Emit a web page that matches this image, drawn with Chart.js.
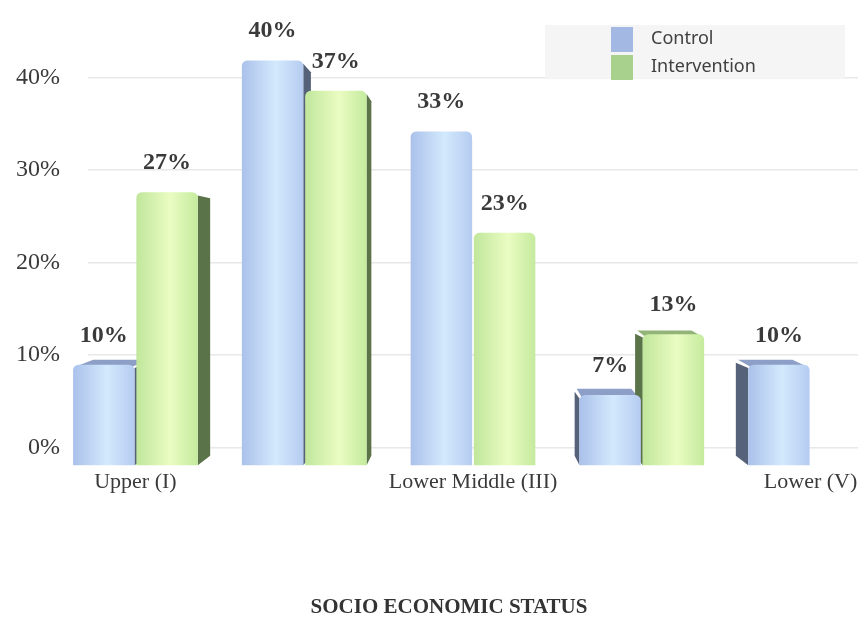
<!DOCTYPE html>
<html>
<head>
<meta charset="utf-8">
<title>Socio economic status</title>
<script src="https://cdn.jsdelivr.net/npm/chart.js@4.4.1/dist/chart.umd.min.js"></script>
<style>
  html, body { margin: 0; padding: 0; background: #fff; }
  #wrap { width: 865px; height: 624px; position: relative; }
</style>
</head>
<body>
<div id="wrap"><canvas id="sesChart"></canvas></div>
<script>
const categories = ['Upper (I)', 'Upper Middle (II)', 'Lower Middle (III)', 'Upper Lower (IV)', 'Lower (V)'];
const controlPct = [10, 40, 33, 7, 10];
const interventionPct = [27, 37, 23, 13, 0];
const yTicks = [0, 10, 20, 30, 40];
const axisTitle = 'SOCIO ECONOMIC STATUS';

// front face tones: edge, highlight, far edge, side wall, top lid, legend key
const SHADES = [
  { edge: '#a9c0ea', light: '#d3e9fd', far: '#b4cbf1', side: '#56617a', top: '#8d9fc6', key: '#a3b9e3' },
  { edge: '#bfe69a', light: '#eafcc2', far: '#c3ea9c', side: '#5a7348', top: '#93b478', key: '#a9d18e' }
];
const CAT_PCT = 0.75;
const BAR_PCT = 0.97;
// the plot is the back wall; bar fronts sit this much closer to the viewer
const VIEW = { zoom: 1.096, depth: 0.955, eyeValue: 21 };
const SERIF = '"Liberation Serif", "Times New Roman", serif';

function eyePoint(chart) {
  const a = chart.chartArea;
  return { x: (a.left + a.right) / 2, y: chart.scales.y.getPixelForValue(VIEW.eyeValue) };
}

function toPlane(e, px, py, k) {
  return [e.x + (px - e.x) * k, e.y + (py - e.y) * k];
}

function frontFill(c) {
  const tones = SHADES[c.datasetIndex];
  const chart = c.chart;
  const area = chart.chartArea;
  if (!area) return tones.edge;
  const slot = (area.right - area.left) / categories.length * CAT_PCT / 2;
  const left = chart.scales.x.getPixelForValue(c.dataIndex) - slot + c.datasetIndex * slot;
  const g = chart.ctx.createLinearGradient(left, 0, left + slot, 0);
  g.addColorStop(0, tones.edge);
  g.addColorStop(0.55, tones.light);
  g.addColorStop(1, tones.far);
  return g;
}

function fillPoly(ctx, pts, color) {
  ctx.beginPath();
  ctx.moveTo(pts[0][0], pts[0][1]);
  pts.slice(1).forEach(p => ctx.lineTo(p[0], p[1]));
  ctx.closePath();
  ctx.fillStyle = color;
  ctx.fill();
}

const boxes3d = {
  id: 'boxes3d',
  beforeDatasetsDraw(chart) {
    const ctx = chart.ctx;
    const e = eyePoint(chart);
    const front = (px, py) => toPlane(e, px, py, VIEW.zoom);
    const back = (px, py) => toPlane(e, px, py, VIEW.zoom * VIEW.depth);
    chart.data.datasets.forEach((ds, di) => {
      const tones = SHADES[di];
      chart.getDatasetMeta(di).data.forEach((bar, i) => {
        if (!ds.data[i]) return;
        const { x, y, base, width } = bar.getProps(['x', 'y', 'base', 'width'], true);
        const L = x - width / 2, R = x + width / 2;
        let sx = null;
        if (R < e.x) sx = R;
        else if (L > e.x) sx = L;
        if (sx !== null) {
          fillPoly(ctx, [front(sx, y + 3), back(sx, y + 3), back(sx, base), front(sx, base)], tones.side);
        }
        if (y > e.y) {
          // lid overlaps the front edge a little so no seam shows
          fillPoly(ctx, [front(L + 2, y + 2), front(R - 2, y + 2), back(R - 2, y), back(L + 2, y)], tones.top);
        }
      });
    });
    // push the bar fronts forward from the back wall
    ctx.save();
    ctx.translate(e.x, e.y);
    ctx.scale(VIEW.zoom, VIEW.zoom);
    ctx.translate(-e.x, -e.y);
  },
  afterDatasetsDraw(chart) {
    const ctx = chart.ctx;
    ctx.restore();
    const e = eyePoint(chart);
    const front = (px, py) => toPlane(e, px, py, VIEW.zoom);

    // value labels over each bar
    ctx.save();
    ctx.font = 'bold 24px ' + SERIF;
    ctx.fillStyle = '#3a3a3a';
    ctx.textAlign = 'center';
    ctx.textBaseline = 'alphabetic';
    chart.data.datasets.forEach((ds, di) => {
      chart.getDatasetMeta(di).data.forEach((bar, i) => {
        if (!ds.data[i]) return;
        const p = front(bar.x, bar.y);
        ctx.fillText(ds.data[i] + '%', p[0], p[1] - 23);
      });
    });

    // category names along the front edge of the floor
    const xs = chart.scales.x;
    const y0 = chart.scales.y.getPixelForValue(0);
    ctx.font = '22px ' + SERIF;
    ctx.textBaseline = 'top';
    categories.forEach((name, i) => {
      if (i % 2) return;
      const p = front(xs.getPixelForValue(i), y0);
      ctx.fillText(name, p[0], p[1] + 5);
    });
    ctx.restore();
  },
  afterDraw(chart) {
    const ctx = chart.ctx;
    ctx.save();
    ctx.fillStyle = '#f5f5f5';
    ctx.fillRect(545, 25, 300, 53);
    ctx.font = '18px "Noto Sans", "Open Sans", sans-serif';
    ctx.textBaseline = 'middle';
    ctx.textAlign = 'left';
    chart.data.datasets.forEach((ds, di) => {
      const top = 27 + di * 28;
      ctx.fillStyle = SHADES[di].key;
      ctx.fillRect(611, top, 22, 25);
      ctx.fillStyle = '#404040';
      ctx.fillText(ds.label, 651, top + 12);
    });

    ctx.font = 'bold 21px ' + SERIF;
    ctx.fillStyle = '#333';
    ctx.textAlign = 'center';
    ctx.fillText(axisTitle, 449, 608);
    ctx.restore();
  }
};

new Chart(document.getElementById('sesChart'), {
  type: 'bar',
  data: {
    labels: categories,
    datasets: [
      { label: 'Control', data: controlPct, backgroundColor: frontFill },
      { label: 'Intervention', data: interventionPct, backgroundColor: frontFill }
    ]
  },
  options: {
    responsive: true,
    maintainAspectRatio: false,
    animation: false,
    layout: { padding: { left: 0, right: 7, top: 31, bottom: 84 } },
    datasets: {
      bar: {
        categoryPercentage: CAT_PCT,
        barPercentage: BAR_PCT,
        borderRadius: 5,
        borderSkipped: 'start',
        clip: false
      }
    },
    scales: {
      x: { display: false },
      y: {
        min: -10,
        max: 45,
        afterFit: s => { s.width = 88; },
        afterBuildTicks: s => { s.ticks = yTicks.map(v => ({ value: v })); },
        border: { display: false },
        grid: { color: '#e8e8e8', lineWidth: 1.5, drawTicks: true, tickLength: 28, tickColor: 'rgba(0,0,0,0)' },
        ticks: {
          padding: 0,
          color: '#3a3a3a',
          font: { family: SERIF, size: 24 },
          callback: v => v + '%'
        }
      }
    },
    plugins: {
      legend: { display: false },
      tooltip: { enabled: false }
    }
  },
  plugins: [boxes3d]
});
</script>
</body>
</html>
